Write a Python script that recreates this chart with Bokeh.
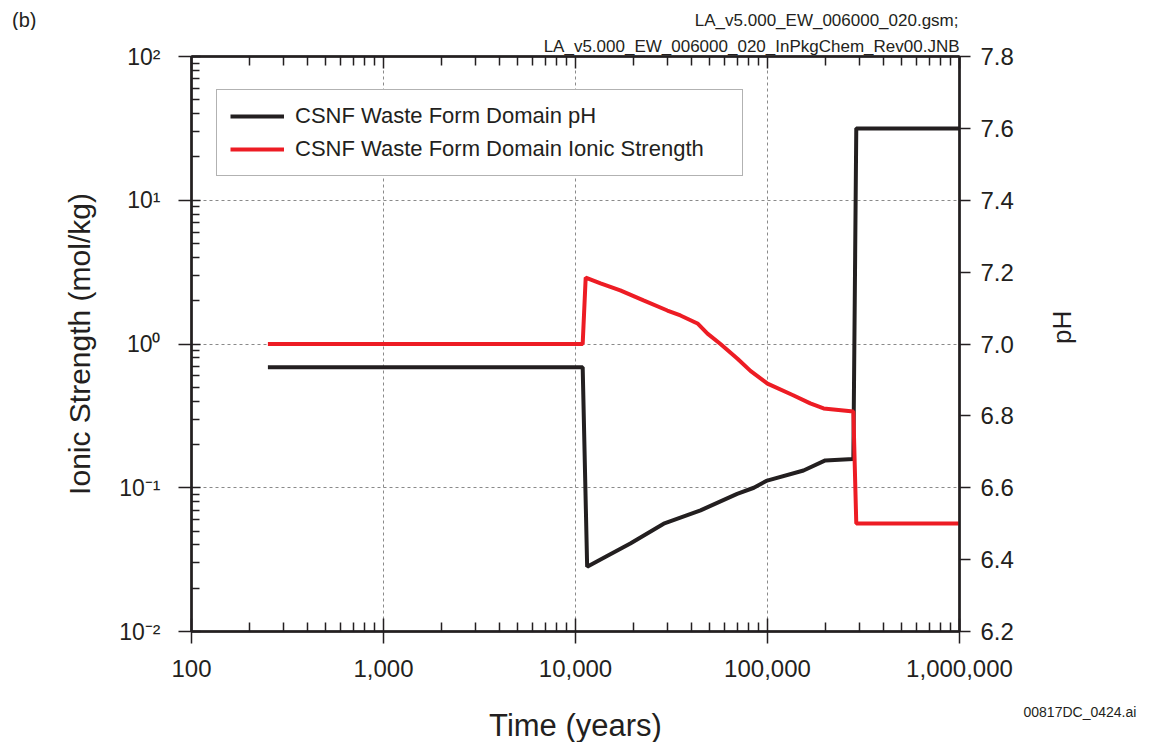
import math
from bokeh.plotting import figure
from bokeh.layouts import column
from bokeh.models import (LogAxis, LinearAxis, Range1d, LinearScale, FixedTicker,
                          Legend, LegendItem, Title)
from bokeh.core.properties import value
from bokeh.embed import file_html
from bokeh.resources import INLINE

# ---------------- data ----------------
ph_time = [250, 10900, 11500, 14600, 19300, 28800, 44800, 69500, 84900, 99600,
           154000, 200000, 280000, 290000, 1000000]
ph_value = [6.935, 6.935, 6.38, 6.41, 6.445, 6.50, 6.537, 6.583, 6.60, 6.62,
            6.648, 6.676, 6.68, 7.60, 7.60]

is_time = [250, 10900, 11300, 13500, 17100, 22600, 30100, 35200, 43200, 48700,
           56900, 69800, 81500, 100000, 136000, 167000, 196000, 280000, 290000, 1000000]
is_value = [1.0, 1.0, 2.90, 2.64, 2.36, 2.01, 1.71, 1.58, 1.39, 1.18,
            1.00, 0.79, 0.65, 0.53, 0.44, 0.386, 0.356, 0.339, 0.0564, 0.0564]

x_ticks = [100, 1000, 10000, 100000, 1000000]
x_tick_labels = ["100", "1,000", "10,000", "100,000", "1,000,000"]
y_ticks = [0.01, 0.1, 1, 10, 100]
y_tick_labels = ["10\u207b\u00b2", "10\u207b\u00b9", "10\u2070", "10\u00b9", "10\u00b2"]
ph_ticks = [6.2, 6.4, 6.6, 6.8, 7.0, 7.2, 7.4, 7.6, 7.8]
ph_tick_labels = ["6.2", "6.4", "6.6", "6.8", "7.0", "7.2", "7.4", "7.6", "7.8"]

series_names = ["CSNF Waste Form Domain pH", "CSNF Waste Form Domain Ionic Strength"]
x_title = "Time (years)"
y_title = "Ionic Strength (mol/kg)"
y2_title = "pH"
file_notes = ["LA_v5.000_EW_006000_020.gsm;", "LA_v5.000_EW_006000_020_InPkgChem_Rev00.JNB"]
panel_tag = "(b)"
figure_id = "00817DC_0424.ai"

FONT = "Liberation Sans"
INK = "#231f20"
RED = "#ed1c24"

# page geometry (px)
PAGE_W = 1151
HEAD_H = 30
FRAME_TOP = 56
FOOT_TOP = 690
PAGE_H = 742
FRAME_L, FRAME_R = 191, 959

x_minor = [m * 10 ** d for d in range(2, 6) for m in range(2, 10)]
y_minor = [m * 10.0 ** d for d in range(-2, 2) for m in range(2, 10)]


def strip_axis(ax):
    ax.axis_line_color = None
    ax.major_tick_line_color = None
    ax.minor_tick_line_color = None
    ax.major_tick_in = 0
    ax.major_tick_out = 0
    ax.minor_tick_in = 0
    ax.minor_tick_out = 0
    ax.major_label_text_font = FONT
    ax.major_label_text_color = INK


def band(height, y_top, y_bottom, axis_side):
    f = figure(width=PAGE_W, height=height,
               x_range=Range1d(FRAME_L, FRAME_R), y_range=Range1d(y_bottom, y_top),
               x_axis_location=None, y_axis_location=axis_side,
               toolbar_location=None, min_border=0, min_border_top=0, min_border_bottom=0,
               output_backend="svg")
    f.outline_line_color = None
    f.grid.visible = False
    return f


# ---------------- header band ----------------
head = band(HEAD_H, 0, HEAD_H, "left")
tag_y = [19]
hax = head.yaxis[0]
strip_axis(hax)
hax.ticker = FixedTicker(ticks=tag_y)
hax.major_label_overrides = {tag_y[0]: panel_tag}
hax.major_label_text_font_size = "20px"
hax.major_label_standoff = FRAME_L - 36
head.text(x=[958], y=[20], text=[file_notes[0]], text_font=value(FONT),
          text_font_size="17px", text_color=INK, text_align="right",
          text_baseline="middle")

# ---------------- main plot ----------------
p = figure(x_axis_type="log", y_axis_type="log",
           x_range=Range1d(100, 1000000), y_range=Range1d(0.01, 100),
           frame_width=768, frame_height=575,
           min_border_left=FRAME_L, min_border_right=PAGE_W - FRAME_R,
           min_border_top=FRAME_TOP - HEAD_H, min_border_bottom=FOOT_TOP - 631,
           output_backend="svg", toolbar_location=None)
p.extra_y_ranges = {"ph": Range1d(6.2, 7.8)}
p.extra_y_scales = {"ph": LinearScale()}
p.outline_line_color = INK
p.outline_line_width = 2
p.background_fill_color = "white"
p.border_fill_color = "white"

xticker = FixedTicker(ticks=x_ticks, minor_ticks=x_minor)
yticker = FixedTicker(ticks=y_ticks, minor_ticks=y_minor)


def style(ax):
    ax.axis_line_color = INK
    ax.axis_line_width = 2.5
    ax.major_tick_line_color = INK
    ax.major_tick_line_width = 1.5
    ax.minor_tick_line_color = INK
    ax.minor_tick_line_width = 1.5
    ax.major_label_text_font = FONT
    ax.major_label_text_color = INK
    ax.axis_label_text_font = FONT
    ax.axis_label_text_color = INK
    ax.axis_label_text_font_style = "normal"


xa = p.xaxis[0]
xa.ticker = xticker
style(xa)
xa.major_tick_in = 13
xa.major_tick_out = 12
xa.minor_tick_in = 9
xa.minor_tick_out = 0
xa.major_label_text_font_size = "24px"
xa.major_label_standoff = 16
xa.major_label_overrides = dict(zip(x_ticks, x_tick_labels))

ya = p.yaxis[0]
ya.ticker = yticker
style(ya)
ya.major_tick_in = 9
ya.major_tick_out = 13
ya.minor_tick_in = 8
ya.minor_tick_out = 0
ya.major_label_text_font_size = "23px"
ya.major_label_standoff = 18
ya.major_label_overrides = dict(zip(y_ticks, y_tick_labels))
ya.axis_label = y_title
ya.axis_label_text_font_size = "30px"
ya.axis_label_standoff = 20

top = LogAxis(ticker=xticker)
style(top)
top.major_tick_in = 12
top.major_tick_out = 0
top.minor_tick_in = 9
top.minor_tick_out = 0
top.major_label_text_font_size = "0px"
top.major_label_standoff = 0
top.major_label_overrides = {t: "" for t in x_ticks}
p.add_layout(top, "above")

# second file-name line sits in the plot's top border, right-aligned to the frame
p.add_layout(Title(text=file_notes[1], align="right", offset=0, standoff=2,
                   text_font=FONT, text_font_size="17px", text_font_style="normal",
                   text_color=INK), "above")

right = LinearAxis(y_range_name="ph", ticker=FixedTicker(ticks=ph_ticks))
style(right)
right.major_tick_in = 0
right.major_tick_out = 11
right.minor_tick_line_color = None
right.major_label_text_font_size = "24px"
right.major_label_standoff = 10
right.major_label_overrides = dict(zip(ph_ticks, ph_tick_labels))
right.axis_label = y2_title
right.axis_label_text_font_size = "26px"
right.axis_label_standoff = 45
right.axis_label_text_align = "center"
if "axis_label_orientation" in right.properties():
    right.axis_label_orientation = math.pi / 2
p.add_layout(right, "right")

p.xgrid.ticker = FixedTicker(ticks=x_ticks[1:-1])
p.ygrid.ticker = FixedTicker(ticks=y_ticks[1:-1])
for g in (p.xgrid, p.ygrid):
    g.grid_line_color = "#8a8a8a"
    g.grid_line_dash = "3 3"
    g.grid_line_width = 1

r_ph = p.line(ph_time, ph_value, y_range_name="ph", line_color=INK, line_width=4)
r_is = p.line(is_time, is_value, line_color=RED, line_width=4)

legend = Legend(items=[LegendItem(label=series_names[0], renderers=[r_ph]),
                       LegendItem(label=series_names[1], renderers=[r_is])],
                location=(25, 455), padding=13, spacing=7, margin=0,
                glyph_width=54, glyph_height=26, label_height=26, label_standoff=11,
                label_width=434,
                label_text_font=FONT, label_text_font_size="22px", label_text_color=INK,
                border_line_color="#666666", border_line_width=1.5,
                background_fill_color="white", background_fill_alpha=1)
p.add_layout(legend)

# ---------------- footer band ----------------
foot = band(PAGE_H - FOOT_TOP, FOOT_TOP, PAGE_H, "right")
id_y = [711]
fax = foot.yaxis[0]
strip_axis(fax)
fax.ticker = FixedTicker(ticks=id_y)
fax.major_label_overrides = {id_y[0]: figure_id}
fax.major_label_text_font_size = "14px"
fax.major_label_standoff = 1023 - FRAME_R
foot.text(x=[575], y=[725], text=[x_title], text_font=value(FONT), text_font_size="31px",
          text_color=INK, text_align="center", text_baseline="middle")

layout = column(head, p, foot, spacing=0)
open("out.html", "w").write(file_html(layout, INLINE))
